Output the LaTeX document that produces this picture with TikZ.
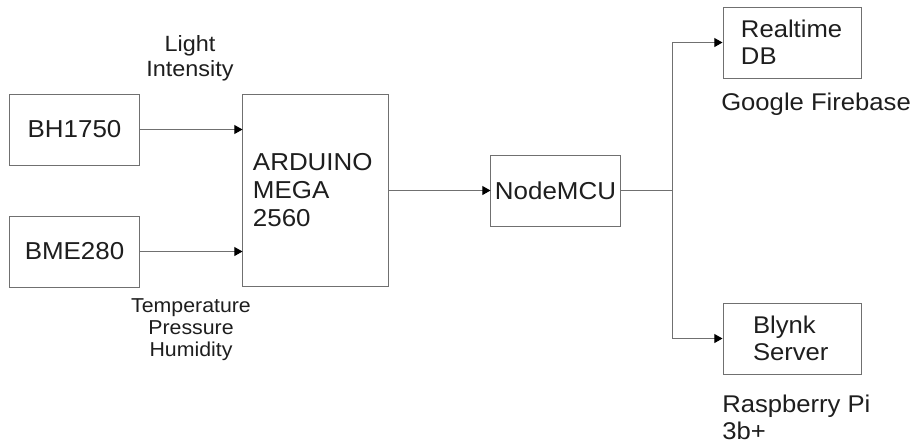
\documentclass[tikz,border=0pt]{standalone}
\usepackage{fontspec}
\setmainfont{Liberation Sans}[FakeStretch=1.06]
\usetikzlibrary{arrows.meta}
\definecolor{linegray}{HTML}{707070}
\definecolor{textgray}{HTML}{1E1E1E}
\tikzset{
  blk/.style={draw=linegray, line width=0.7pt, text=textgray, minimum width=3.225cm, minimum height=1.775cm, inner sep=0pt},
  lbl/.style={text=textgray, align=center, inner sep=0pt},
  flow/.style={draw=linegray, line width=0.7pt, -{Triangle[length=0.2cm,width=0.22cm,fill=black,color=black]}},
  wire/.style={draw=linegray, line width=0.7pt}
}
\newcommand{\bigtxt}{\fontsize{17.4}{19.9}\selectfont}
\newcommand{\midtxt}{\fontsize{17.2}{19.2}\selectfont}
\newcommand{\smltxt}{\fontsize{15.7}{17.8}\selectfont}
\newcommand{\tinytxt}{\fontsize{14.3}{15.6}\selectfont}
\begin{document}
\begin{tikzpicture}[x=0.025cm,y=-0.025cm]
\useasboundingbox (0,0) rectangle (913,443);
% sensors
\node[blk, font=\bigtxt] (bh) at (74.5,129.5) {BH1750};
\node[blk, font=\bigtxt] (bme) at (74.5,251.5) {BME280};
% controller
\node[blk, font=\bigtxt, minimum height=4.775cm, align=left, text width=3.125cm, inner xsep=0.25cm] (mega) at (315.5,190.5)
  {ARDUINO\\MEGA\\2560};
\node[blk, font=\bigtxt] (mcu) at (555.5,190.5) {NodeMCU};
% cloud side
\node[blk, font=\midtxt, minimum width=3.45cm, align=left, text width=2.55cm, inner xsep=0.45cm] (db) at (792,42.5)
  {Realtime\\DB};
\node[blk, font=\midtxt, minimum width=3.45cm, align=left, text width=1.95cm, inner xsep=0.75cm] (blynk) at (792,338.5)
  {Blynk\\Server};
% labels
\node[lbl, font=\smltxt] (light) at (190,58) {Light\\Intensity};
\node[lbl, font=\tinytxt] (env) at (191,330) {Temperature\\Pressure\\Humidity};
\node[lbl, font=\midtxt, anchor=west] (fire) at (721,104) {Google Firebase};
\node[lbl, font=\midtxt, anchor=west, align=left] (rpi) at (722,417) {Raspberry Pi\\3b+};
% connectors
\coordinate (split) at (672,190.5);
\draw[flow] (bh.east) -- (bh.east -| mega.west);
\draw[flow] (bme.east) -- (bme.east -| mega.west);
\draw[flow] (mega.east) -- (mcu.west);
\draw[wire] (mcu.east) -- (split);
\draw[flow] (split) |- (db.west);
\draw[flow] (split) |- (blynk.west);
\end{tikzpicture}
\end{document}
